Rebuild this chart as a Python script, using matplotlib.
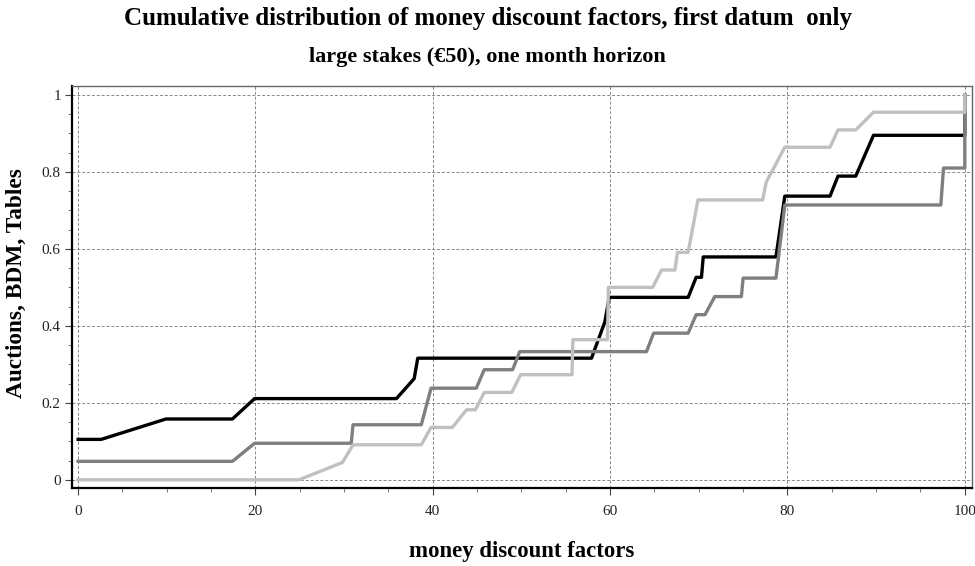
import matplotlib.pyplot as plt
from matplotlib.ticker import MultipleLocator, FuncFormatter

# money discount factors (x) and cumulative shares (y)
auction_x = [0, 2.6, 9.9, 17.4, 19.9, 35.9, 37.9, 38.3, 57.9, 59.4, 59.9, 68.8, 69.7, 70.3, 70.5,
             78.7, 79.7, 84.8, 85.7, 87.7, 89.7, 100, 100]
auction_y = [0.105, 0.105, 0.158, 0.158, 0.211, 0.211, 0.263, 0.316, 0.316, 0.41, 0.474, 0.474, 0.526,
             0.526, 0.579, 0.579, 0.737, 0.737, 0.789, 0.789, 0.895, 0.895, 1.0]

bdm_x = [0, 17.4, 19.9, 30.8, 31.0, 38.7, 39.8, 44.9, 45.8, 49.0, 49.8, 64.1, 64.9, 68.8, 69.7, 70.7,
         71.8, 74.8, 75.0, 78.7, 79.7, 97.3, 97.6, 100, 100]
bdm_y = [0.048, 0.048, 0.095, 0.095, 0.143, 0.143, 0.238, 0.238, 0.286, 0.286, 0.333, 0.333, 0.381,
         0.381, 0.429, 0.429, 0.476, 0.476, 0.524, 0.524, 0.714, 0.714, 0.810, 0.810, 1.0]

tables_x = [0, 24.9, 29.8, 31.0, 38.7, 39.8, 42.2, 43.8, 44.8, 45.8, 48.9, 49.9, 55.7, 55.8, 59.7,
            59.8, 64.8, 65.8, 67.3, 67.6, 68.8, 69.9, 77.2, 77.6, 79.7, 84.8, 85.7, 87.7, 89.7, 100, 100]
tables_y = [0, 0, 0.045, 0.091, 0.091, 0.136, 0.136, 0.182, 0.182, 0.227, 0.227, 0.273, 0.273, 0.364,
            0.364, 0.5, 0.5, 0.545, 0.545, 0.591, 0.591, 0.727, 0.727, 0.773, 0.864, 0.864, 0.909,
            0.909, 0.955, 0.955, 1.0]

x_ticks = [0, 20, 40, 60, 80, 100]
y_ticks = [0, 0.2, 0.4, 0.6, 0.8, 1]

plt.rcParams['font.family'] = 'Liberation Serif'

fig = plt.figure(figsize=(9.75, 5.66), dpi=100)
ax = fig.add_axes([0.0738, 0.138, 0.923, 0.710])

ax.plot(auction_x, auction_y, color='black', lw=2.4, zorder=3)
ax.plot(bdm_x, bdm_y, color='#7f7f7f', lw=2.4, zorder=4)
ax.plot(tables_x, tables_y, color='#c0c0c0', lw=2.4, zorder=5)

ax.set_xlim(-0.7, 100.8)
ax.set_ylim(-0.021, 1.023)
ax.set_xticks(x_ticks)
ax.set_yticks(y_ticks)
ax.yaxis.set_major_formatter(FuncFormatter(lambda v, p: f'{v:g}'))
ax.xaxis.set_minor_locator(MultipleLocator(5))
ax.yaxis.set_minor_locator(MultipleLocator(0.05))
ax.tick_params(which='major', length=5, labelsize=11, color='#444444', labelcolor='#222222')
ax.tick_params(which='minor', length=3, color='#666666')
ax.tick_params(axis='x', pad=7)
ax.tick_params(axis='y', pad=3)

ax.grid(True, which='major', color='#888888', linestyle=(0, (3, 2)), lw=0.7)
for side in ['left', 'bottom']:
    ax.spines[side].set_linewidth(1.6)
    ax.spines[side].set_color('black')
for side in ['top', 'right']:
    ax.spines[side].set_linewidth(1.0)
    ax.spines[side].set_color('#666666')

fig.text(0.5, 0.968, 'Cumulative distribution of money discount factors, first datum  only',
         ha='center', va='center', fontsize=18, fontweight='bold')
fig.text(0.5, 0.899, 'large stakes (€50), one month horizon',
         ha='center', va='center', fontsize=16, fontweight='bold')
fig.text(0.535, 0.026, 'money discount factors', ha='center', va='center',
         fontsize=16.4, fontweight='bold')
fig.text(0.017, 0.50, 'Auctions, BDM, Tables', ha='center', va='center', rotation=90,
         fontsize=16.8, fontweight='bold')

fig.savefig('out.png', dpi=100)
